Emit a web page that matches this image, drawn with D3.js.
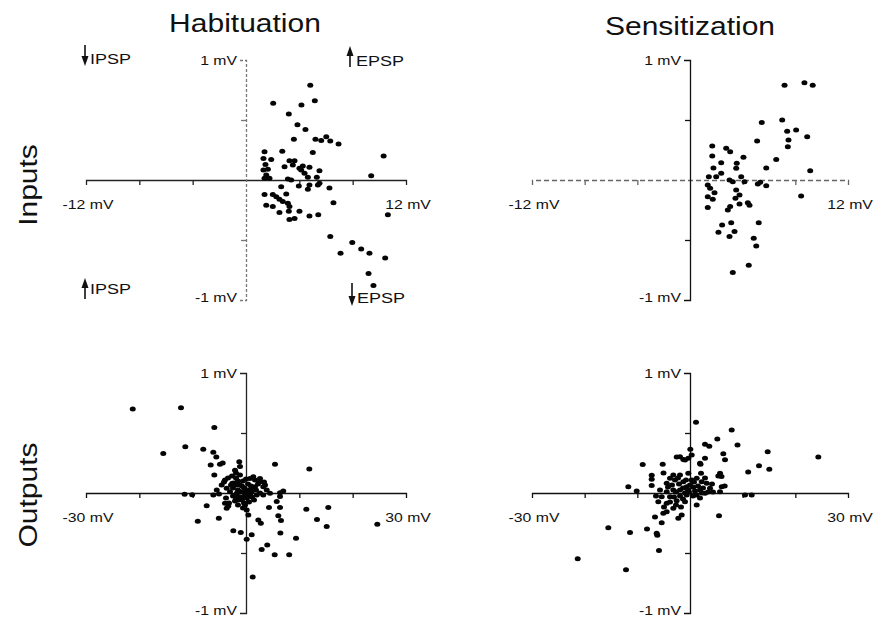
<!DOCTYPE html>
<html><head><meta charset="utf-8">
<script src="https://cdn.jsdelivr.net/npm/d3@7"></script>
<style>body{margin:0;background:#fff}svg{display:block}text{font-family:"Liberation Sans",Arial,sans-serif;fill:#111}</style>
</head><body>
<script>
// ---------- data ----------
const columnTitles = ["Habituation", "Sensitization"];
const rowTitles = ["Inputs", "Outputs"];
const inputXLabels = ["-12 mV", "12 mV"];
const outputXLabels = ["-30 mV", "30 mV"];
const yLabels = ["1 mV", "-1 mV"];
const inputXTicks = [-8, -4, 4, 8];
const outputXTicks = [-20, -10, 10, 20];
const yTicks = [-0.5, 0.5];
const annotTop = ["IPSP", "EPSP"];
const annotBottom = ["IPSP", "EPSP"];

const habInputs = [[4.82,0.79],[2.04,0.64],[4.16,0.625],[5.16,0.66],[3.21,0.55],[3.86,0.46],[4.46,0.42],[3.59,0.34],[5.21,0.34],[5.64,0.33],[6.02,0.36],[6.32,0.325],[6.94,0.30],[10.32,0.20],[2.72,0.24],[5.01,0.23],[9.39,0.036],[5.51,0.078],
[1.39,0.236],[1.31,0.18],[1.89,0.17],[1.46,0.13],[1.64,0.09],[1.31,0.083],[1.52,0.042],[1.39,0.014],[1.76,0.014],
[2.89,0.11],[3.26,0.16],[3.64,0.16],[3.51,0.125],[4.26,0.117],[4.14,0.083],[4.39,0.056],[4.76,0.106],[4.64,0.022],[3.14,0.008],[3.39,0],[4.01,0.097],[5.31,0.022],
[2.64,-0.056],[3.96,-0.05],[4.76,-0.042],[4.64,-0.078],[5.39,-0.042],[5.51,-0.028],[6.26,-0.067],[1.39,-0.12],[2.01,-0.12],[2.27,-0.14],[3.02,-0.117],[2.51,-0.16],[2.76,-0.18],[3.14,-0.194],[1.52,-0.21],[2.01,-0.22],[3.26,-0.22],[2.51,-0.27],[3.21,-0.26],[4.01,-0.26],[4.76,-0.30],[5.42,-0.29],[3.26,-0.33],[3.64,-0.32],[6.56,-0.19],[10.64,-0.29],
[6.32,-0.47],[7.09,-0.61],[7.97,-0.52],[8.64,-0.575],[9.26,-0.61],[10.44,-0.65],[9.19,-0.78],[9.56,-0.88]];

const sensInputs = [[7.18,0.79],[8.69,0.81],[9.32,0.79],[5.45,0.48],[7.00,0.50],[7.38,0.406],[8.06,0.417],[8.90,0.36],[5.10,0.325],[7.48,0.333],[7.43,0.278],[6.55,0.17],[5.79,0.10],[9.13,0.078],[8.44,-0.133],[5.79,-0.047],[5.15,-0.033],[5.33,-0.019],
[1.69,0.283],[1.69,0.20],[2.37,0.144],[1.78,0.10],[2.75,0.264],[3.05,0.236],[3.55,0.139],[3.51,0.097],[4.06,0.19],[1.43,0.028],[1.99,0.028],[2.37,0.056],[1.35,-0.042],[1.53,-0.069],[1.35,-0.139],[1.73,-0.161],[1.35,-0.23],[3.0,0],[3.25,-0.014],[3.89,0.028],[4.14,-0.014],[3.51,-0.083],[3.76,-0.125],[3.45,-0.153],[3.76,-0.20],[4.39,-0.19],[4.52,-0.21],[3.05,-0.22],[2.87,-0.25],[2.44,-0.375],[3.13,-0.356],[2.16,-0.436],[3.38,-0.43],[3.0,-0.47],[5.22,-0.356],[4.84,-0.486],[5.03,-0.55],[4.46,-0.71],[3.25,-0.77],[1.86,-0.106]];

const habOutputs = [[-21.24,0.70],[-12.19,0.71],[-5.94,0.546],[-15.51,0.33],[-11.38,0.386],[-8.01,0.365],[-6.13,0.34],[-5.57,0.30],[-6.62,0.233],[-4.88,0.24],[-4.37,0.25],[-5.94,0.15],[-1.26,0.26],[-1.13,0.22],[-2.06,0.19],[5.44,0.24],[11.87,0.20],
[-11.51,-0.01],[-10.09,-0.014],[-7.37,-0.107],[-9.04,-0.236],[-5.10,-0.21],[-3.94,-0.086],[-3.62,-0.128],[-3.32,-0.108],[-2.38,-0.315],[-0.98,-0.33],[1.07,-0.347],[0.13,-0.385],[2.31,-0.225],[2.78,-0.253],[1.26,-0.70],[2.94,-0.47],[3.99,-0.433],[5.38,-0.514],[8.10,-0.514],[9.38,-0.378],[6.45,-0.333],[6.56,-0.23],[6.06,-0.19],[4.31,-0.12],[4.5,-0.003],[5.76,-0.07],[6.38,-0.12],[11.31,-0.135],[13.31,-0.22],[15.13,-0.28],[15.43,-0.12],[24.62,-0.26],[6.99,0.017],[6.38,-0.03],[6.38,0.003],
[3.56,0.067],[1.37,0.136],[2.63,0.12],[1.69,0.108],[2.63,0.094],[1.69,0.053],[3.24,0.053],[3.88,0.025],[1.07,0.011],[2.01,-0.017],[3.24,-0.017],[0.75,0.12],[-2.57,0.081],[-3.94,0.108],[-4.56,0.067],[-5.49,0.025],[-6.13,-0.017],[-3.62,0.039],[-3.0,0.011],[-1.74,0.067],[-2.06,-0.017],[-1.13,0.011],[-1.44,-0.058],[-0.51,-0.031],[-0.19,-0.10],[0.13,-0.142],[0.43,-0.183],
[-1.13,0.067],[-0.38,0.042],[0.38,0.025],[1.13,0.042],[-0.19,0],[0.75,-0.017],[-1.5,0.025],[-0.75,-0.058],[0.19,-0.042],[1.5,-0.058],[-1.88,0.125],[-0.56,0.1],
[-2.63,0.142],[-1.88,0.167],[-1.13,0.15],[-2.44,0.042],[-1.69,0],[-0.94,-0.033],[-0.38,-0.083],[-0.56,-0.125],[0.56,-0.075],[1.13,-0.033],[1.88,0.025],[2.63,0],[2.25,0.075],[3.38,0.092],[0.38,0.075],[0,0.117],[0.94,0.058],[-3.75,-0.042],[-3.19,-0.083],[-4.13,0.092],[-3.38,0.125],[-5.06,-0.008],[-2.06,-0.067],[-1.5,-0.1],[-0.75,0.058],
[-2.25,0.083],[-1.5,0.1],[-2.44,-0.025],[-1.31,-0.033],[-2.81,0.067],[-0.38,0.008],[0.38,-0.008],[-1.88,-0.042]];

const sensOutputs = [[1.14,0.59],[7.92,0.525],[5.18,0.45],[2.85,0.406],[3.66,0.39],[9.02,0.40],[14.75,0.344],[24.36,0.30],[0.06,0.364],[-2.53,0.30],[-1.27,0.28],[0.32,0.317],[-0.32,0.29],[2.85,0.29],[6.32,0.327],[6.65,0.278],[-8.98,0.238],[-5.18,0.24],[1.99,0.24],[13.10,0.228],[15.06,0.198],[11.05,0.175],[5.70,0.164],[5.98,0.1375],[-5.03,0.167],[-7.27,0.1475],[-7.27,0.114],[-7.27,0.0625],[-3.17,0.15],[2.09,0.164],[-11.71,0.0525],[-10.12,0.017],[11.71,-0.017],[6.59,0.058],[5.51,-0.19],[-6.65,-0.20],[-5.37,-0.2475],[-15.51,-0.29],[-11.39,-0.33],[-8.16,-0.30],[-6.32,-0.336],[-6.21,-0.3525],[-5.89,-0.48],[-21.32,-0.5475],[-12.15,-0.64],
[-3.80,0.1225],[-4.42,0.081],[-2.85,0.108],[-1.90,0.15],[-1.27,0.094],[-0.32,0.164],[0.32,0.108],[1.27,0.1225],[2.22,0.094],[3.17,0.081],[3.80,0.039],[-0.63,0.0525],[0.63,0.0475],[1.90,0.025],[-1.90,0.025],[-3.17,0.025],[-4.42,0.011],[-5.37,-0.031],[-3.80,-0.031],[-1.90,-0.025],[-0.63,-0.017],[1.27,-0.017],[2.85,-0.0025],[-6.02,-0.0725],[-4.42,-0.086],[-2.53,-0.064],[-0.95,-0.0725],[1.27,-0.10],[-3.17,-0.1275],[-4.42,-0.156],[-1.58,-0.183],[-2.22,-0.211],[-5.07,-0.169],[5.70,0.011],[6.02,0.0525],[5.37,0.1417],[1.90,0.2475],[-1.90,0.3025],[-0.95,0.275],[10.44,-0.017],
[-4.18,0.05],[-3.42,0.067],[-2.66,0.008],[-1.33,0.042],[0,0.067],[0.76,0.092],[1.52,0.058],[2.47,0.042],[3.42,0.008],[4.18,0.075],[-0.19,0.008],[0.57,-0.025],[1.9,-0.042],[-1.33,-0.05],[-2.66,-0.1],[-3.8,-0.075],[-4.94,-0.117],[-1.71,-0.117],[-0.76,0.108],[-2.28,0.125],[-5.7,0.025],[-6.46,-0.025],[2.85,0.125],[4.37,0.008],
[-0.38,0.025],[0.95,0.017],[2.28,0],[-2.09,0.075],[-0.95,0],[-3.04,-0.033]];

// ---------- layout ----------
const W = 876, H = 621, SX = 1.17;
const svg = d3.select("body").append("svg").attr("width", W).attr("height", H);

function stretchText(g, str, x, y, size, anchor, sx, rot) {
  return g.append("text")
    .attr("transform", `translate(${x},${y})${rot ? ` rotate(${rot})` : ""} scale(${sx},1)`)
    .attr("text-anchor", anchor).attr("font-size", size).text(str);
}

const panels = [
  {data: habInputs, xMax: 12, xTicks: inputXTicks, xLabels: inputXLabels, x0: 86, x1: 406, y0: 300, y1: 60, xDash: null, yDash: "3,2", yColor: "#777", xColor: "#222"},
  {data: sensInputs, xMax: 12, xTicks: inputXTicks, xLabels: inputXLabels, x0: 532, x1: 848, y0: 300, y1: 60, xDash: "5,3", yDash: null, yColor: "#111", xColor: "#666"},
  {data: habOutputs, xMax: 30, xTicks: outputXTicks, xLabels: outputXLabels, x0: 86, x1: 406, y0: 613, y1: 373, xDash: null, yDash: null, yColor: "#222", xColor: "#111"},
  {data: sensOutputs, xMax: 30, xTicks: outputXTicks, xLabels: outputXLabels, x0: 532, x1: 848, y0: 613, y1: 373, xDash: null, yDash: null, yColor: "#111", xColor: "#111"}
];

panels.forEach(p => {
  const x = d3.scaleLinear().domain([-p.xMax, p.xMax]).range([p.x0, p.x1]);
  const y = d3.scaleLinear().domain([-1, 1]).range([p.y0, p.y1]);
  const g = svg.append("g");

  const xAxis = d3.axisBottom(x).tickValues(p.xTicks).tickSize(5).tickSizeOuter(5).tickFormat(() => "");
  const gx = g.append("g").attr("transform", `translate(0,${y(0)})`).call(xAxis);
  gx.selectAll("path,line").attr("stroke", p.xColor).attr("stroke-width", 1.3);
  if (p.xDash) gx.select("path").attr("stroke-dasharray", p.xDash);

  const yAxis = d3.axisLeft(y).tickValues(yTicks).tickSize(5).tickSizeOuter(6).tickFormat(() => "");
  const gy = g.append("g").attr("transform", `translate(${x(0)},0)`).call(yAxis);
  gy.selectAll("path,line").attr("stroke", p.yColor).attr("stroke-width", 1.3);
  if (p.yDash) gy.select("path").attr("stroke-dasharray", p.yDash);

  // axis end labels
  stretchText(g, p.xLabels[0], x(-p.xMax) + 2, y(0) + 29, 13.5, "middle", SX);
  stretchText(g, p.xLabels[1], x(p.xMax) + 2, y(0) + 29, 13.5, "middle", SX);
  stretchText(g, yLabels[0], x(0) - 9, y(1) + 5, 13.5, "end", SX);
  stretchText(g, yLabels[1], x(0) - 9, y(-1) + 2, 13.5, "end", SX);

  g.append("g").selectAll("ellipse").data(p.data).join("ellipse")
    .attr("cx", d => x(d[0])).attr("cy", d => y(d[1]))
    .attr("rx", 3.0).attr("ry", 2.5).attr("fill", "#050505");
});

// column and row titles
stretchText(svg, columnTitles[0], 245, 32, 25, "middle", 1.2);
stretchText(svg, columnTitles[1], 690, 35, 25, "middle", 1.2);
stretchText(svg, rowTitles[0], 37, 185, 25, "middle", 1.2, -90);
stretchText(svg, rowTitles[1], 37, 495, 25, "middle", 1.2, -90);

// IPSP / EPSP annotations with arrows
function arrow(x, yA, yB) { // from yA to yB, head at yB
  const dir = yB > yA ? 1 : -1;
  svg.append("line").attr("x1", x).attr("x2", x).attr("y1", yA).attr("y2", yB - dir * 7)
    .attr("stroke", "#111").attr("stroke-width", 1.6);
  svg.append("path").attr("d", `M${x - 3.5},${yB - dir * 10} L${x + 3.5},${yB - dir * 10} L${x},${yB} Z`).attr("fill", "#111");
}
arrow(85, 45, 66); stretchText(svg, annotTop[0], 90, 64, 15, "start", 1.2);
arrow(350, 67, 46); stretchText(svg, annotTop[1], 356, 66, 15, "start", 1.2);
arrow(85, 299, 278); stretchText(svg, annotBottom[0], 90, 294, 15, "start", 1.2);
arrow(352, 283, 306); stretchText(svg, annotBottom[1], 357, 303, 15, "start", 1.2);
</script>
</body></html>
